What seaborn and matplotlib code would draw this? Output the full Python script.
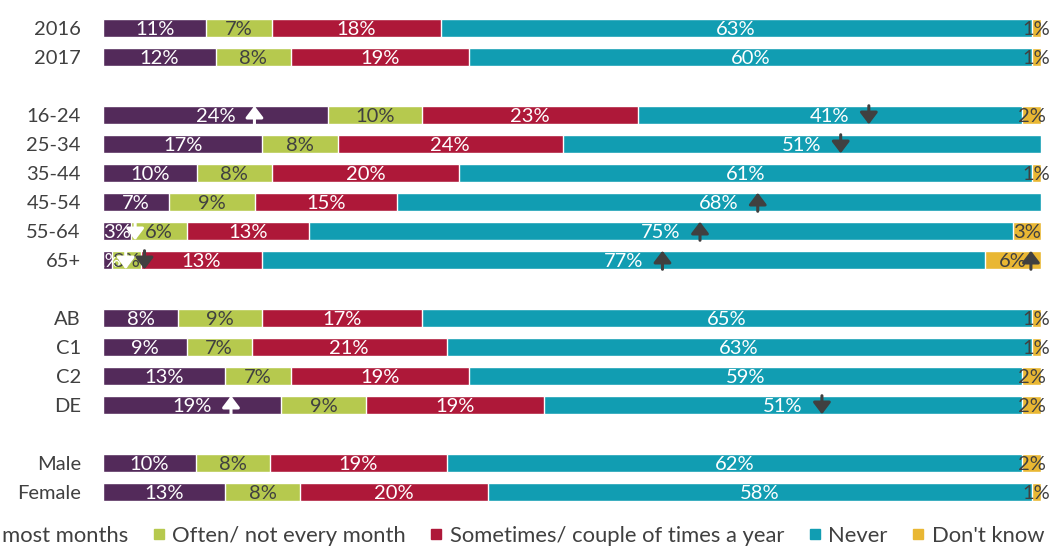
import numpy as np
import matplotlib
matplotlib.use('Agg')
import matplotlib.pyplot as plt
import seaborn as sns
from matplotlib.lines import Line2D
from matplotlib.patches import Rectangle
from matplotlib.transforms import offset_copy

# rows (top to bottom) and their slot on the y axis (blank slots separate the groups)
groups = ['2016', '2017', '16-24', '25-34', '35-44', '45-54', '55-64', '65+',
          'AB', 'C1', 'C2', 'DE', 'Male', 'Female']
row_pos = [0, 1, 3, 4, 5, 6, 7, 8, 10, 11, 12, 13, 15, 16]

categories = ['Very often/ most months', 'Often/ not every month',
              'Sometimes/ couple of times a year', 'Never', "Don't know"]

very_often = [11, 12, 24, 17, 10, 7, 3, 1, 8, 9, 13, 19, 10, 13]
often = [7, 8, 10, 8, 8, 9, 6, 3, 9, 7, 7, 9, 8, 8]
sometimes = [18, 19, 23, 24, 20, 15, 13, 13, 17, 21, 19, 19, 19, 20]
never = [63, 60, 41, 51, 61, 68, 75, 77, 65, 63, 59, 51, 62, 58]
dont_know = [1, 1, 2, 0, 1, 0, 3, 6, 1, 1, 2, 2, 2, 1]

# significant differences: row, category index, direction
sig_groups = ['16-24', '16-24', '25-34', '45-54', '55-64', '55-64',
              '65+', '65+', '65+', '65+', 'DE', 'DE']
sig_cats = [0, 3, 3, 3, 0, 3, 0, 1, 3, 4, 0, 3]
sig_dirs = ['up', 'down', 'down', 'up', 'down', 'up',
            'down', 'down', 'up', 'up', 'up', 'down']

colors = ['#532A5A', '#B6C94E', '#AE1839', '#119DB2', '#E9B733']
dark = '#404040'
label_colors = ['white', dark, 'white', 'white', dark]
arrow_colors = ['white', dark, dark, dark, dark]

sns.set_theme(style='white')
plt.rcParams['font.family'] = ['Lato', 'DejaVu Sans']

values = np.array([very_often, often, sometimes, never, dont_know], dtype=float)
# 100% stacked: each row normalised to its total
shares = values / values.sum(axis=0) * 100
cum = shares.cumsum(axis=0)
starts = cum - shares

fig = plt.figure(figsize=(10.51, 5.57), dpi=100)
ax = fig.add_axes([103 / 1051, 0.0907, 938 / 1051, 0.885])

# draw cumulative bars from the longest to the shortest so they stack
for k in reversed(range(len(categories))):
    sns.barplot(x=cum[k], y=row_pos, orient='h', native_scale=True,
                color=colors[k], saturation=1, width=0.65, errorbar=None,
                edgecolor='white', linewidth=1, ax=ax)

# labels are cut at the left edge of the plot only
clip = Rectangle((0, 0), 1.2, 1, transform=ax.transAxes)
for k in range(len(categories)):
    for i, r in enumerate(row_pos):
        v = values[k, i]
        if v == 0:
            continue
        cx = starts[k, i] + shares[k, i] / 2
        t = ax.text(cx, r + 0.04, f'{v:.0f}%', ha='center', va='center',
                    color=label_colors[k], fontsize=14.5)
        t.set_clip_path(clip)

for g, k, d in zip(sig_groups, sig_cats, sig_dirs):
    i = groups.index(g)
    r = row_pos[i]
    cx = starts[k, i] + shares[k, i] / 2
    dx = 28 if values[k, i] >= 10 else 13
    tr = offset_copy(ax.transData, fig=fig, x=dx, y=0, units='points')
    tip, tail = (r - 0.32, r + 0.32) if d == 'up' else (r + 0.32, r - 0.32)
    ax.annotate('', xy=(cx, tip), xycoords=tr, xytext=(cx, tail), textcoords=tr,
                arrowprops=dict(arrowstyle='-|>,head_length=0.5,head_width=0.38',
                                mutation_scale=14, lw=2.2, shrinkA=0, shrinkB=0,
                                color=arrow_colors[k]))

ax.set_xlim(0, 100)
ax.set_ylim(16.5, -0.5)
ax.set_yticks(row_pos, groups)
ax.set_xticks([])
ax.set_xlabel('')
ax.set_ylabel('')
ax.tick_params(axis='y', length=0, pad=16, labelsize=14.5, labelcolor=dark)
sns.despine(ax=ax, left=True, bottom=True)

handles = [Line2D([], [], marker='s', linestyle='', markersize=7.5, color=c)
           for c in colors]
fig.legend(handles, categories, loc='center right',
           bbox_to_anchor=(1044 / 1051, 0.0377), ncol=5, frameon=False,
           fontsize=15.8, labelcolor=dark, handlelength=0.55, handletextpad=0.35,
           columnspacing=1.1, borderaxespad=0, borderpad=0)

fig.savefig('out.png', dpi=100)
